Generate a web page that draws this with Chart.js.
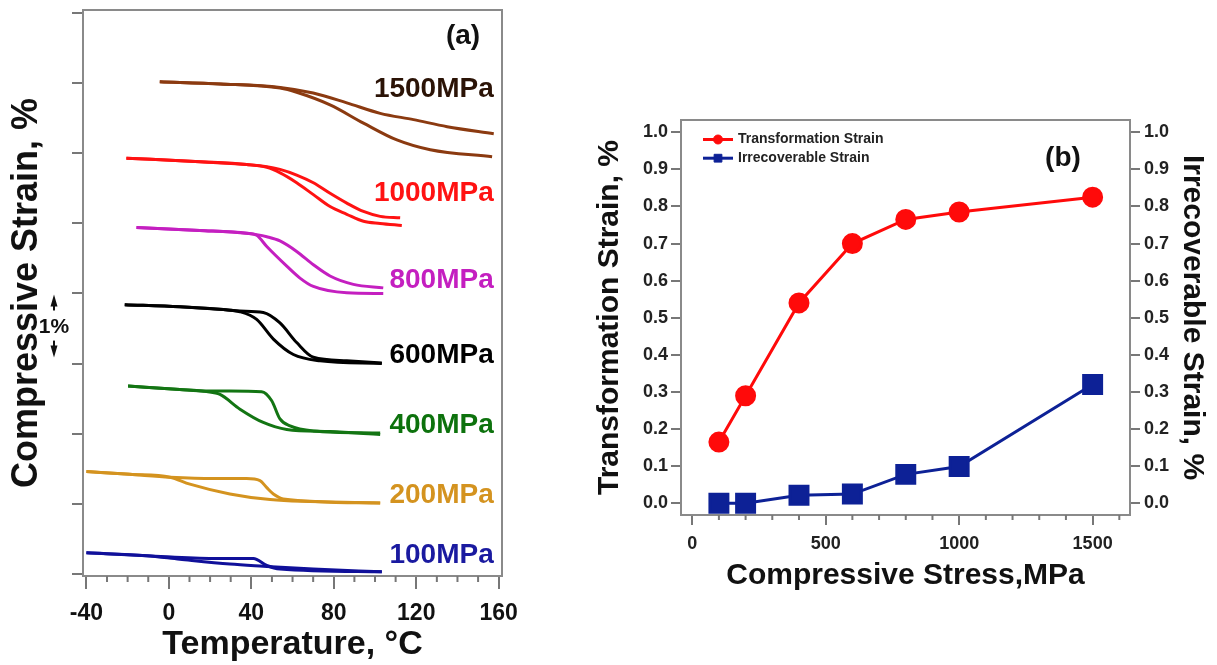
<!DOCTYPE html>
<html>
<head>
<meta charset="utf-8">
<title>Strain vs temperature and stress</title>
<script src="https://cdn.jsdelivr.net/npm/chart.js@4.4.1/dist/chart.umd.min.js"></script>
<style>
    html, body { margin: 0; padding: 0; background: #fff; }
    body { width: 1217px; height: 665px; position: relative; overflow: hidden; }
    .panel { position: absolute; top: 0; }
    #panelA { left: 0; width: 540px; height: 665px; }
    #panelB { left: 580px; width: 637px; height: 600px; }
</style>
</head>
<body>
<div class="panel" id="panelA"><canvas id="strainChart"></canvas></div>
<div class="panel" id="panelB"><canvas id="stressChart"></canvas></div>
<script>
// (a) strain-temperature loops: [temperature °C, strain %], upper and lower branch per load
const loadLabels = ["1500MPa", "1000MPa", "800MPa", "600MPa", "400MPa", "200MPa", "100MPa"];
const labelLevels = [6.92, 5.43, 4.19, 3.12, 2.12, 1.12, 0.27];
const tempTicks = [-40, 0, 40, 80, 120, 160];

const upper1500 = [[-4.4, 7.02], [25, 6.99], [54, 6.94], [70, 6.86], [86.3, 6.72], [102.5, 6.57], [118.7, 6.48], [135, 6.38], [157.6, 6.28]];
const lower1500 = [[-4.4, 7.02], [25, 6.99], [54, 6.93], [62, 6.87], [78.2, 6.69], [94.4, 6.43], [110.6, 6.19], [126.8, 6.05], [156.8, 5.95]];

const upper1000 = [[-20.6, 5.93], [15.1, 5.88], [37.7, 5.84], [47.5, 5.81], [53.9, 5.77], [62, 5.69], [70.1, 5.58], [78.2, 5.43], [86.3, 5.29], [94.4, 5.17], [102.5, 5.1], [112.2, 5.08]];
const lower1000 = [[-20.6, 5.93], [15.1, 5.88], [37.7, 5.84], [47.5, 5.8], [54, 5.72], [62, 5.58], [70.1, 5.41], [78.2, 5.24], [86.3, 5.13], [94.4, 5.03], [102.5, 5.0], [113, 4.97]];

const upper800 = [[-15.7, 4.94], [15, 4.9], [37.7, 4.86], [42.6, 4.84], [47.5, 4.81], [53.9, 4.75], [62, 4.6], [70.1, 4.41], [78.2, 4.25], [89.5, 4.13], [104, 4.08]];
const lower800 = [[-15.7, 4.94], [15, 4.9], [37.7, 4.86], [42.6, 4.83], [47.5, 4.67], [57.2, 4.39], [63.6, 4.22], [70.1, 4.1], [86.3, 4.01], [104, 4.0]];

const upper600 = [[-21.4, 3.84], [5.3, 3.81], [26.4, 3.77], [34.5, 3.75], [45.8, 3.73], [53.9, 3.58], [62, 3.3], [70.1, 3.09], [86.3, 3.04], [103.3, 3.01]];
const lower600 = [[-21.4, 3.84], [5.3, 3.81], [26.4, 3.77], [34.5, 3.74], [42.6, 3.63], [50.7, 3.35], [60.4, 3.13], [73.4, 3.04], [103.3, 3.0]];

const upper400 = [[-19.8, 2.68], [5.3, 2.63], [18.3, 2.61], [29.6, 2.61], [45, 2.6], [49.9, 2.47], [53.9, 2.21], [58.8, 2.11], [70.1, 2.04], [102.5, 2.01]];
const lower400 = [[-19.8, 2.68], [5.3, 2.63], [18.3, 2.6], [24.8, 2.56], [34.5, 2.35], [45.8, 2.16], [57.2, 2.06], [78.2, 2.03], [102.5, 1.99]];

const upper200 = [[-40, 1.46], [-19, 1.42], [0.5, 1.38], [21.5, 1.36], [37.7, 1.36], [44.2, 1.33], [47.5, 1.23], [50.7, 1.14], [55.5, 1.07], [102.5, 1.01]];
const lower200 = [[-40, 1.46], [-19, 1.42], [0.5, 1.38], [10.2, 1.28], [29.6, 1.14], [49.1, 1.06], [102.5, 1.01]];

const upper100 = [[-40, 0.3], [-10.8, 0.26], [21.5, 0.22], [41, 0.22], [47.5, 0.12], [53.9, 0.07], [103.3, 0.03]];
const lower100 = [[-40, 0.3], [-10.8, 0.26], [5.3, 0.21], [29.6, 0.14], [45.8, 0.11], [70, 0.07], [103.3, 0.03]];

// (b) strain against applied stress
const stressMPa = [100, 200, 400, 600, 800, 1000, 1500];
const transformationStrain = [0.165, 0.29, 0.54, 0.7, 0.765, 0.785, 0.825];
const irrecoverableStrain = [0.0, 0.0, 0.022, 0.025, 0.078, 0.099, 0.32];
const stressTicks = [0, 500, 1000, 1500];

const loadColors = ["#8b3a10", "#ff1212", "#c41fc0", "#000000", "#137513", "#d4931f", "#10109a"];
const labelColors = ["#2b1306", "#ff1212", "#c41fc0", "#000000", "#0d720d", "#d4931f", "#1a1aa0"];
const branches = [
    [upper1500, lower1500], [upper1000, lower1000], [upper800, lower800], [upper600, lower600],
    [upper400, lower400], [upper200, lower200], [upper100, lower100],
];

const FONT = "'Liberation Sans', Arial, sans-serif";
const AXIS_GREY = "#777";

const boxFrame = {
    id: "boxFrame",
    beforeDatasetsDraw(chart, args, opts) {
        const a = chart.chartArea;
        const ctx = chart.ctx;
        ctx.save();
        ctx.strokeStyle = opts.color;
        ctx.lineWidth = opts.width;
        ctx.strokeRect(a.left, a.top, a.right - a.left, a.bottom - a.top);
        ctx.restore();
    },
};

// short ticks between the labelled ones on the x axis
const minorTicks = {
    id: "minorTicks",
    afterDraw(chart, args, opts) {
        const scale = chart.scales.x;
        const ctx = chart.ctx;
        ctx.save();
        ctx.strokeStyle = opts.color;
        ctx.lineWidth = opts.width;
        ctx.beginPath();
        const first = Math.ceil(scale.min / opts.step) * opts.step;
        for (let v = first; v <= scale.max; v += opts.step) {
            if (Math.abs(v % opts.major) < 1e-6) continue;
            const px = scale.getPixelForValue(v);
            ctx.moveTo(px, scale.top);
            ctx.lineTo(px, scale.top + opts.length);
        }
        ctx.stroke();
        ctx.restore();
    },
};

const strainDecor = {
    id: "strainDecor",
    afterDatasetsDraw(chart) {
        const { ctx, chartArea, scales: { x, y } } = chart;
        ctx.save();
        ctx.font = "bold 28px " + FONT;
        ctx.textAlign = "right";
        ctx.textBaseline = "middle";
        loadLabels.forEach((text, i) => {
            ctx.fillStyle = labelColors[i];
            ctx.fillText(text, x.getPixelForValue(157.6), y.getPixelForValue(labelLevels[i]));
        });

        ctx.fillStyle = "#111";
        ctx.textAlign = "center";
        ctx.fillText("(a)", chartArea.right - 39, chartArea.top + 26);

        // 1% scale marker between two ticks
        const ax = chartArea.left - 29;
        const top = y.getPixelForValue(4);
        const bot = y.getPixelForValue(3);
        ctx.font = "bold 21px " + FONT;
        ctx.fillText("1%", ax, (top + bot) / 2 - 1);
        ctx.beginPath();
        ctx.moveTo(ax, top + 1);
        ctx.lineTo(ax - 3.5, top + 13);
        ctx.lineTo(ax + 3.5, top + 13);
        ctx.closePath();
        ctx.moveTo(ax, bot - 6);
        ctx.lineTo(ax - 3.5, bot - 18);
        ctx.lineTo(ax + 3.5, bot - 18);
        ctx.closePath();
        ctx.fill();
        ctx.fillRect(ax - 1, top + 12, 2, 5);
        ctx.fillRect(ax - 1, bot - 23, 2, 6);
        ctx.restore();
    },
};

const stressDecor = {
    id: "stressDecor",
    afterDatasetsDraw(chart) {
        const { ctx, chartArea } = chart;
        ctx.save();
        chart.data.datasets.forEach((ds, i) => {
            const ly = chartArea.top + 19.5 + i * 18.7;
            const lx = chartArea.left + 22;
            ctx.strokeStyle = ds.borderColor;
            ctx.fillStyle = ds.borderColor;
            ctx.lineWidth = 3;
            ctx.beginPath();
            ctx.moveTo(lx, ly);
            ctx.lineTo(lx + 30, ly);
            ctx.stroke();
            ctx.lineWidth = 1;
            Chart.helpers.drawPoint(ctx, { pointStyle: ds.pointStyle, radius: ds.pointStyle === "rect" ? 5.5 : 4.5, rotation: 0, borderWidth: 1 }, lx + 15, ly);
            ctx.fillStyle = "#222";
            ctx.font = "bold 14px " + FONT;
            ctx.textAlign = "left";
            ctx.textBaseline = "middle";
            ctx.fillText(ds.label, lx + 35, ly);
        });
        ctx.fillStyle = "#111";
        ctx.font = "bold 28px " + FONT;
        ctx.textAlign = "center";
        ctx.textBaseline = "middle";
        ctx.fillText("(b)", chartArea.right - 67, chartArea.top + 38);
        ctx.restore();
    },
};

const strainDatasets = branches.flatMap((pair, i) =>
    pair.map((pts) => ({
        data: pts.map(([t, s]) => ({ x: t, y: s })),
        showLine: true,
        borderColor: loadColors[i],
        borderWidth: 3,
        pointRadius: 0,
        pointHoverRadius: 0,
        cubicInterpolationMode: "monotone",
    }))
);

new Chart(document.getElementById("strainChart"), {
    type: "scatter",
    data: { datasets: strainDatasets },
    options: {
        responsive: true,
        maintainAspectRatio: false,
        animation: false,
        layout: { padding: { top: 10, right: 38, left: 0, bottom: 0 } },
        plugins: {
            legend: { display: false },
            tooltip: { enabled: false },
            boxFrame: { color: "#8a8a8a", width: 2 },
            minorTicks: { step: 10, major: 40, length: 6, color: AXIS_GREY, width: 2 },
        },
        scales: {
            x: {
                type: "linear",
                min: -41.65,
                max: 161.6,
                border: { display: false },
                grid: { drawOnChartArea: false, tickLength: 13, color: AXIS_GREY, lineWidth: 2 },
                ticks: { padding: 11, maxRotation: 0, color: "#111", font: { family: FONT, size: 23, weight: "bold" } },
                afterBuildTicks(scale) { scale.ticks = tempTicks.map((v) => ({ value: v })); },
                title: { display: true, text: "Temperature, °C", color: "#111", padding: { top: 0, bottom: 0 }, font: { family: FONT, size: 34, weight: "bold" } },
                afterFit(scale) { scale.height = 89; },
            },
            y: {
                min: -0.03,
                max: 8.044,
                border: { display: false },
                grid: { drawOnChartArea: false, tickLength: 11, color: AXIS_GREY, lineWidth: 2 },
                ticks: { stepSize: 1, includeBounds: false, display: false },
                title: { display: true, text: "Compressive Strain, %", color: "#111", padding: { top: 5, bottom: 0 }, font: { family: FONT, size: 36, weight: "bold" } },
                afterFit(scale) { scale.width = 83; },
            },
        },
    },
    plugins: [boxFrame, minorTicks, strainDecor],
});

const tickFont = { family: FONT, size: 18, weight: "bold" };

new Chart(document.getElementById("stressChart"), {
    type: "scatter",
    data: {
        datasets: [
            {
                label: "Transformation Strain",
                data: stressMPa.map((s, i) => ({ x: s, y: transformationStrain[i] })),
                yAxisID: "y",
                showLine: true,
                borderColor: "#ff0a0a",
                backgroundColor: "#ff0a0a",
                borderWidth: 3,
                pointStyle: "circle",
                pointRadius: 9,
                pointHoverRadius: 9,
            },
            {
                label: "Irrecoverable Strain",
                data: stressMPa.map((s, i) => ({ x: s, y: irrecoverableStrain[i] })),
                yAxisID: "y1",
                showLine: true,
                borderColor: "#0d2196",
                backgroundColor: "#0d2196",
                borderWidth: 3,
                pointStyle: "rect",
                pointRadius: 12.7,
                pointHoverRadius: 12.7,
            },
        ],
    },
    options: {
        responsive: true,
        maintainAspectRatio: false,
        animation: false,
        layout: { padding: { top: 120, right: 0, left: 0, bottom: 0 } },
        plugins: {
            legend: { display: false },
            tooltip: { enabled: false },
            boxFrame: { color: "#8a8a8a", width: 2 },
            minorTicks: { step: 100, major: 500, length: 5, color: AXIS_GREY, width: 2 },
        },
        scales: {
            x: {
                type: "linear",
                min: -42,
                max: 1640,
                border: { display: false },
                grid: { drawOnChartArea: false, tickLength: 10, color: AXIS_GREY, lineWidth: 2 },
                ticks: { padding: 8, maxRotation: 0, color: "#222", font: tickFont, callback: (v) => String(v) },
                afterBuildTicks(scale) { scale.ticks = stressTicks.map((v) => ({ value: v })); },
                title: { display: true, text: "Compressive Stress,MPa", color: "#111", padding: { top: 0, bottom: 6 }, font: { family: FONT, size: 30, weight: "bold" } },
                afterFit(scale) { scale.height = 85; },
            },
            y: {
                position: "left",
                min: -0.0315,
                max: 1.033,
                border: { display: false },
                grid: { drawOnChartArea: false, tickLength: 10, color: AXIS_GREY, lineWidth: 2 },
                ticks: { stepSize: 0.1, includeBounds: false, padding: 3, color: "#222", font: tickFont, callback: (v) => v.toFixed(1) },
                title: { display: true, text: "Transformation Strain, %", color: "#111", padding: { top: 12, bottom: 0 }, font: { family: FONT, size: 30, weight: "bold" } },
                afterFit(scale) { scale.width = 101; },
            },
            y1: {
                position: "right",
                min: -0.0315,
                max: 1.033,
                border: { display: false },
                grid: { drawOnChartArea: false, tickLength: 10, color: AXIS_GREY, lineWidth: 2 },
                ticks: { stepSize: 0.1, includeBounds: false, padding: 4, color: "#222", font: tickFont, callback: (v) => v.toFixed(1) },
                title: { display: true, text: "Irrecoverable Strain, %", color: "#111", padding: { top: 7, bottom: 0 }, font: { family: FONT, size: 30, weight: "bold" } },
                afterFit(scale) { scale.width = 87; },
            },
        },
    },
    plugins: [boxFrame, minorTicks, stressDecor],
});
</script>
</body>
</html>
